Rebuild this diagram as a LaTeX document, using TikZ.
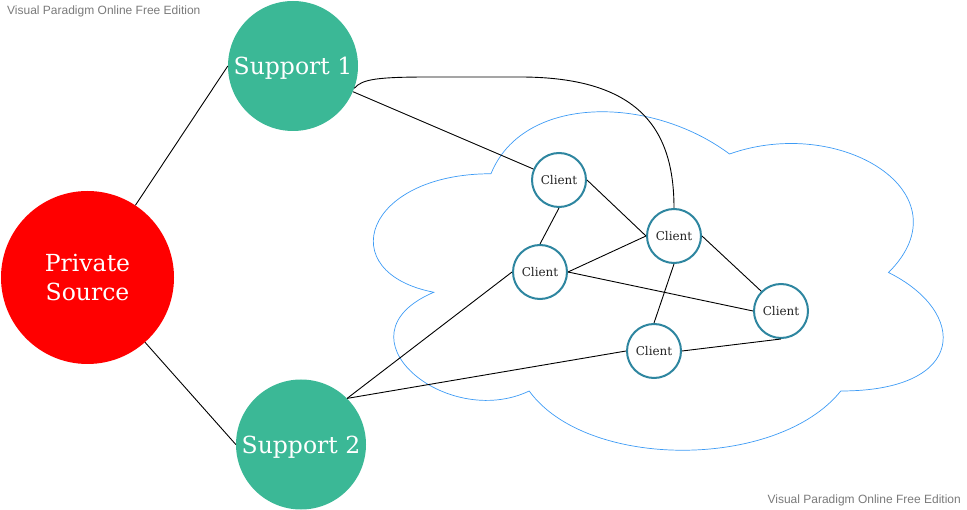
\documentclass[tikz,border=0pt]{standalone}
\usepackage{fontspec}
\setmainfont{DejaVu Serif}
\newfontfamily\wmfont{Liberation Sans}
\usepackage{xcolor}
\usetikzlibrary{arrows.meta,positioning}
\definecolor{srcred}{HTML}{FF0000}
\definecolor{supgreen}{HTML}{3BB896}
\definecolor{clientline}{HTML}{2E86A0}
\definecolor{cloudblue}{HTML}{3D9BF5}
\definecolor{wmgray}{HTML}{7A7A7A}

\begin{document}
\begin{tikzpicture}[
  x=1pt, y=-1pt,
  source/.style={circle, fill=srcred, text=white, inner sep=0pt, minimum size=173pt, align=center, font=\fontsize{23.5}{28.7}\selectfont},
  support/.style={circle, fill=supgreen, text=white, inner sep=0pt, minimum size=130pt, text depth=0pt, font=\fontsize{23.5}{28}\selectfont},
  client/.style={circle, draw=clientline, line width=2pt, fill=white, text=black!85, inner sep=0pt, minimum size=54pt, font=\fontsize{12}{14}\selectfont},
  link/.style={line width=0.9pt, black},
  watermark/.style={text=wmgray, font=\wmfont\fontsize{12}{14}\selectfont, inner sep=0pt}
]
\useasboundingbox (0,0) rectangle (967,510);

\draw[cloudblue, line width=0.7pt] (491,173.75)
  .. controls (363.8,173.75) and (332,272.5) .. (433.8,292.25)
  .. controls (332,335.7) and (446.5,430.5) .. (529.2,391)
  .. controls (586.4,470) and (777.2,470) .. (840.8,391)
  .. controls (968,391) and (968,312) .. (888.5,272.5)
  .. controls (968,193.5) and (840.8,114.5) .. (729.5,154)
  .. controls (650,94.75) and (522.8,94.75) .. (491,173.75);

\node[source] (ps) at (87.5,277.5) {Private\\Source};
\node[support] (s1) at (293,66) {Support 1};
\node[support] (s2) at (301,444.5) {Support 2};
\node[client] (ca) at (559,180) {Client};
\node[client] (cb) at (674,236) {Client};
\node[client] (cc) at (540,272) {Client};
\node[client] (cd) at (781,311) {Client};
\node[client] (ce) at (654,351) {Client};

\node[watermark, anchor=west] (wm1) at (7,11) {Visual Paradigm Online Free Edition};
\node[watermark, anchor=east] (wm2) at (961,500) {Visual Paradigm Online Free Edition};

\draw[link] (ps) -- (s1.west);
\draw[link] (ps) -- (s2.west);
\draw[link] (s1) -- (ca);
\draw[link] (s1.-20) .. controls (362,79) and (378,77) .. (430,77) -- (520,77)
  .. controls (640,77) and (674,130) .. (cb.north);
\draw[link] (ca.south) -- (cc.north);
\draw[link] (ca.east) -- (cb.west);
\draw[link] (cc.east) -- (cb.west);
\draw[link] (cb.east) -- (cd.north west);
\draw[link] (cb.south) -- (ce.north);
\draw[link] (cc.east) -- (cd.west);
\draw[link] (ce.east) -- (cd.south);
\draw[link] (s2.north east) -- (cc.west);
\draw[link] (s2.north east) -- (ce.west);
\end{tikzpicture}
\end{document}
